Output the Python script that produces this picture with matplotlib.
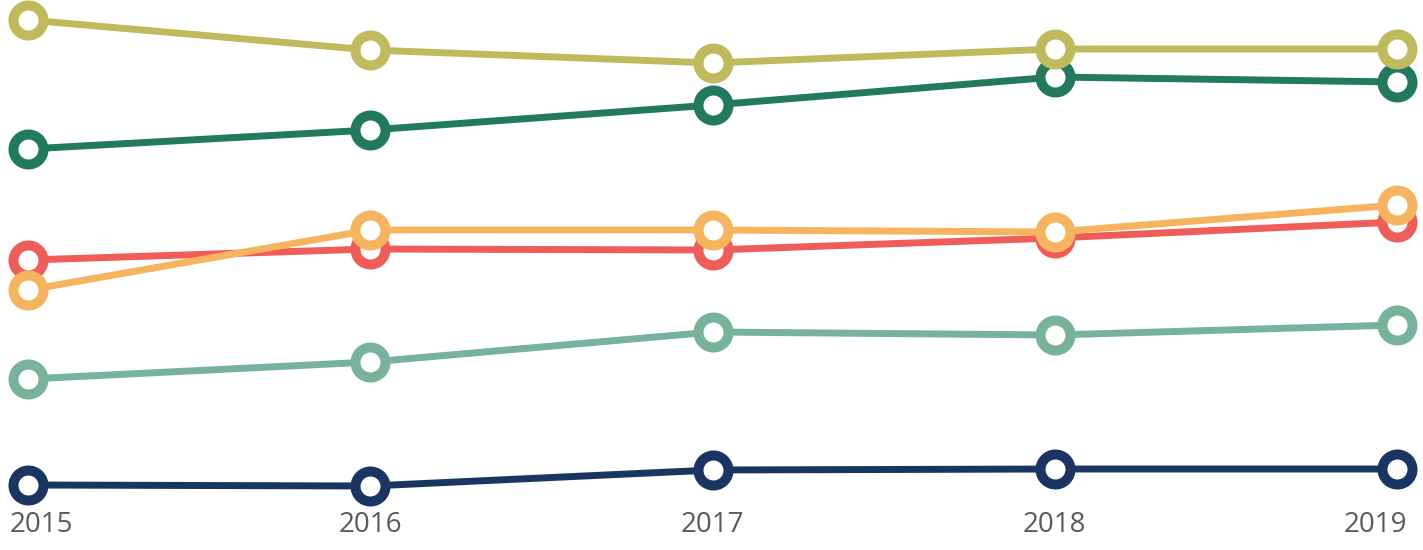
import matplotlib
matplotlib.use('Agg')
import matplotlib.pyplot as plt
from matplotlib.transforms import offset_copy

YEARS = [2015, 2016, 2017, 2018, 2019]
YEAR_LABELS = ['2015', '2016', '2017', '2018', '2019']

# series values
NAVY        = [3.0, 2.8, 6.0, 6.2, 6.2]
LIGHT_GREEN = [24.2, 27.6, 33.6, 33.0, 35.0]
RED         = [48.0, 50.2, 50.0, 52.4, 55.6]
ORANGE      = [42.0, 54.0, 54.0, 53.6, 59.0]
DARK_GREEN  = [70.2, 74.0, 79.0, 84.6, 83.6]
OLIVE       = [96.0, 90.0, 87.4, 90.2, 90.2]

SERIES = [
    (NAVY,        '#1b3563'),
    (LIGHT_GREEN, '#77b29a'),
    (RED,         '#f05c58'),
    (ORANGE,      '#f6b45e'),
    (DARK_GREEN,  '#217a5e'),
    (OLIVE,       '#bfbb5d'),
]

TEXT = '#5a5a5a'

fig = plt.figure(figsize=(14.23, 5.5), dpi=100)
ax = fig.add_axes([28 / 1423, 50 / 550, (1397 - 28) / 1423, 500 / 550])

for values, color in SERIES:
    ax.plot(YEARS, values, color=color, lw=5,
            marker='o', markersize=21.6, markeredgewidth=7.2,
            markerfacecolor='white', markeredgecolor=color,
            clip_on=False, solid_capstyle='butt')

ax.set_xlim(YEARS[0], YEARS[-1])
ax.set_ylim(0, 100)
ax.axis('off')

# year labels under the points, ends kept inside the figure
for i, (yr, lab) in enumerate(zip(YEARS, YEAR_LABELS)):
    ha, dx = 'center', 0
    if i == 0:
        ha, dx = 'left', -18
    elif i == len(YEARS) - 1:
        ha, dx = 'right', 10
    tr = offset_copy(ax.get_xaxis_transform(), fig=fig,
                     x=dx, y=-25, units='dots')
    ax.text(yr, 0, lab, transform=tr, ha=ha, va='center',
            fontsize=20, family='Open Sans', color=TEXT)

plt.savefig('out.png', dpi=100, facecolor='white')
plt.close()
